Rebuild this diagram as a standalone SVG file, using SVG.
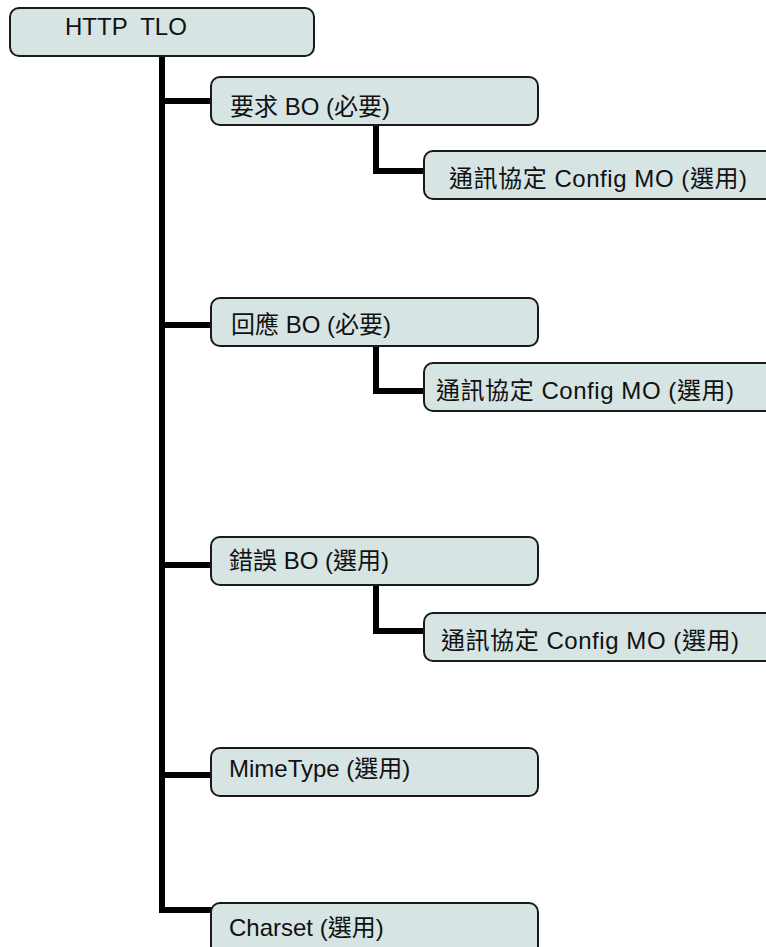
<svg xmlns="http://www.w3.org/2000/svg" width="766" height="947" viewBox="0 0 766 947">
<style>
.box{fill:#d6e4e4;stroke:#1a1a1a;stroke-width:2}
.t{font-family:"Liberation Sans","Noto Sans CJK TC",sans-serif;font-size:24px;fill:#111}
.c{fill:none;stroke:#000;stroke-width:6}
</style>
<rect width="766" height="947" fill="#fff"/>
<g id="connectors">
<path class="c" d="M162 56 V910 H212"/>
<path class="c" d="M162 101 H212"/>
<path class="c" d="M162 325 H212"/>
<path class="c" d="M162 565 H212"/>
<path class="c" d="M162 775 H212"/>
<path class="c" d="M376 125 V171 H425"/>
<path class="c" d="M376 346 V391 H425"/>
<path class="c" d="M376 585 V631 H425"/>
</g>
<g id="n-http">
<rect class="box" x="10" y="8" width="304" height="48" rx="9"/>
<text class="t" x="65" y="35" xml:space="preserve">HTTP  TLO</text>
</g>
<g id="n-req">
<rect class="box" x="211" y="77" width="327" height="48" rx="9"/>
<text class="t" x="230" y="115">要求 BO (必要)</text>
</g>
<g id="n-req-cfg">
<rect class="box" x="424" y="151" width="360" height="48" rx="9"/>
<text class="t" x="449" y="187" textLength="298">通訊協定 Config MO (選用)</text>
</g>
<g id="n-resp">
<rect class="box" x="211" y="298" width="327" height="48" rx="9"/>
<text class="t" x="231" y="333">回應 BO (必要)</text>
</g>
<g id="n-resp-cfg">
<rect class="box" x="424" y="363" width="360" height="48" rx="9"/>
<text class="t" x="436" y="399" textLength="298">通訊協定 Config MO (選用)</text>
</g>
<g id="n-err">
<rect class="box" x="211" y="537" width="327" height="48" rx="9"/>
<text class="t" x="229" y="569">錯誤 BO (選用)</text>
</g>
<g id="n-err-cfg">
<rect class="box" x="424" y="613" width="360" height="48" rx="9"/>
<text class="t" x="441" y="649" textLength="298">通訊協定 Config MO (選用)</text>
</g>
<g id="n-mime">
<rect class="box" x="211" y="748" width="327" height="48" rx="9"/>
<text class="t" x="229" y="777">MimeType (選用)</text>
</g>
<g id="n-charset">
<rect class="box" x="211" y="903" width="327" height="60" rx="9"/>
<text class="t" x="229" y="936">Charset (選用)</text>
</g>
</svg>
